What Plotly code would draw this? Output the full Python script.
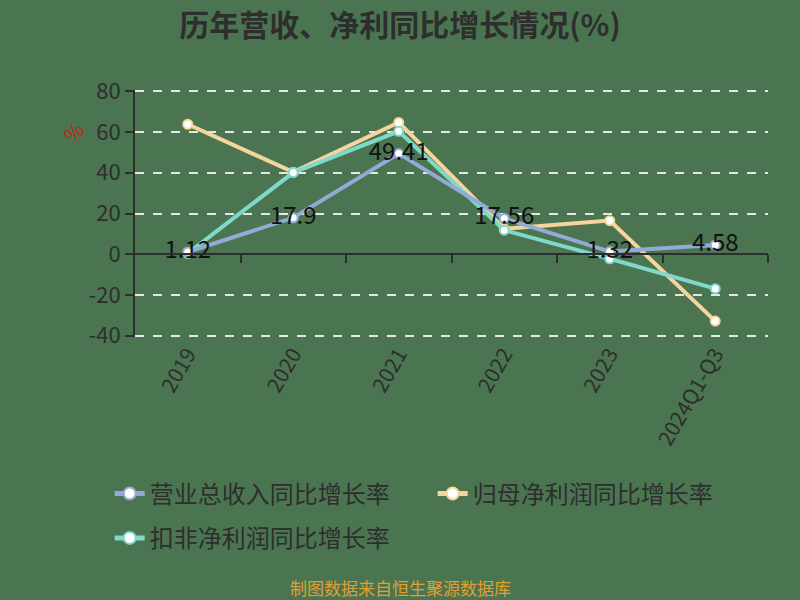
import plotly.graph_objects as go

categories = ["2019", "2020", "2021", "2022", "2023", "2024Q1-Q3"]
revenue_yoy = [1.12, 17.9, 49.41, 17.56, 1.32, 4.58]
netprofit_yoy = [63.8, 40.3, 64.7, 12.5, 16.5, -32.8]
deducted_yoy = [0.4, 40.1, 60.3, 11.8, -2.2, -16.9]
y_tickvals = [-40, -20, 0, 20, 40, 60, 80]
y_ticktext = ["-40", "-20", "0", "20", "40", "60", "80"]

name_rev = "营业总收入同比增长率"
name_np = "归母净利润同比增长率"
name_ded = "扣非净利润同比增长率"

BG = "#4a7550"
DARK = "#2e2e2e"
C_REV = "#93aad6"
C_NP = "#f6d59c"
C_DED = "#7fd8c8"
FONT = "Noto Sans CJK SC"

fig = go.Figure()

def add_line(y, name, color, rank, legend, text=None):
    fig.add_trace(go.Scatter(
        x=categories, y=y, name=name, mode="lines+markers+text" if text else "lines+markers",
        line=dict(color=color, width=4),
        marker=dict(symbol="circle", size=9, color="#ffffff", line=dict(color=color, width=2)),
        text=text, textposition="middle center",
        textfont=dict(family=FONT, size=24, color="#111111"),
        legendrank=rank, legend=legend, cliponaxis=False,
    ))

add_line(netprofit_yoy, name_np, C_NP, 2, "legend")
add_line(deducted_yoy, name_ded, C_DED, 3, "legend2")
add_line(revenue_yoy, name_rev, C_REV, 1, "legend", text=[str(v) for v in revenue_yoy])

# helper axis drawn through zero (category boundaries)
fig.add_trace(go.Scatter(x=[0], y=[0], xaxis="x2", yaxis="y", mode="markers",
                         marker=dict(opacity=0), showlegend=False, hoverinfo="skip"))

legend_common = dict(orientation="h", xanchor="left", yanchor="middle",
                     font=dict(size=24, color=DARK, family=FONT),
                     entrywidth=278, entrywidthmode="pixels", itemsizing="constant",
                     bgcolor="rgba(0,0,0,0)")

fig.update_layout(
    width=800, height=600,
    paper_bgcolor=BG, plot_bgcolor=BG,
    margin=dict(l=135, r=32, t=90, b=263),
    font=dict(family=FONT, color=DARK),
    title=dict(text="<b>历年营收、净利同比增长情况(%)</b>", x=0.5, xanchor="center",
               y=0.957, yanchor="middle", font=dict(size=30, color=DARK, family=FONT)),
    xaxis=dict(type="category", showline=False, ticks="", showgrid=False, zeroline=False,
               tickangle=-60, tickfont=dict(size=21, color=DARK, family=FONT),
               range=[-0.5, 5.5]),
    xaxis2=dict(overlaying="x", anchor="free", position=40.6/121.2, range=[-0.5, 5.5],
                showline=True, linecolor=DARK, linewidth=2, ticks="outside", ticklen=8,
                tickwidth=2, tickcolor=DARK, tickvals=[0.5, 1.5, 2.5, 3.5, 4.5, 5.5],
                showticklabels=False, showgrid=False, zeroline=False),
    yaxis=dict(range=[-40.6, 80.6], tickvals=y_tickvals, ticktext=y_ticktext,
               showline=True, linecolor=DARK, linewidth=2,
               ticks="outside", ticklen=8, tickwidth=2, tickcolor=DARK,
               showgrid=True, gridcolor="#e6e6e6", gridwidth=2, griddash="dash",
               zeroline=False, tickfont=dict(size=22, color=DARK, family=FONT)),
    legend=dict(x=-0.04, y=-0.635, **legend_common),
    legend2=dict(x=-0.04, y=-0.815, **legend_common),
    showlegend=True,
    annotations=[
        dict(text="%", xref="paper", yref="paper", x=-0.128, y=0.91, showarrow=False,
             textangle=-45, font=dict(size=20, color="#d0201a", family=FONT)),
        dict(text="制图数据来自恒生聚源数据库", xref="paper", yref="paper", x=0.42, y=-1.015,
             xanchor="center", yanchor="middle", showarrow=False,
             font=dict(size=17, color="#e0a030", family=FONT)),
    ],
)

fig.write_html("out.html", config={"displayModeBar": False},
               post_script="document.body.style.margin='0';document.body.style.background='%s';" % BG)
